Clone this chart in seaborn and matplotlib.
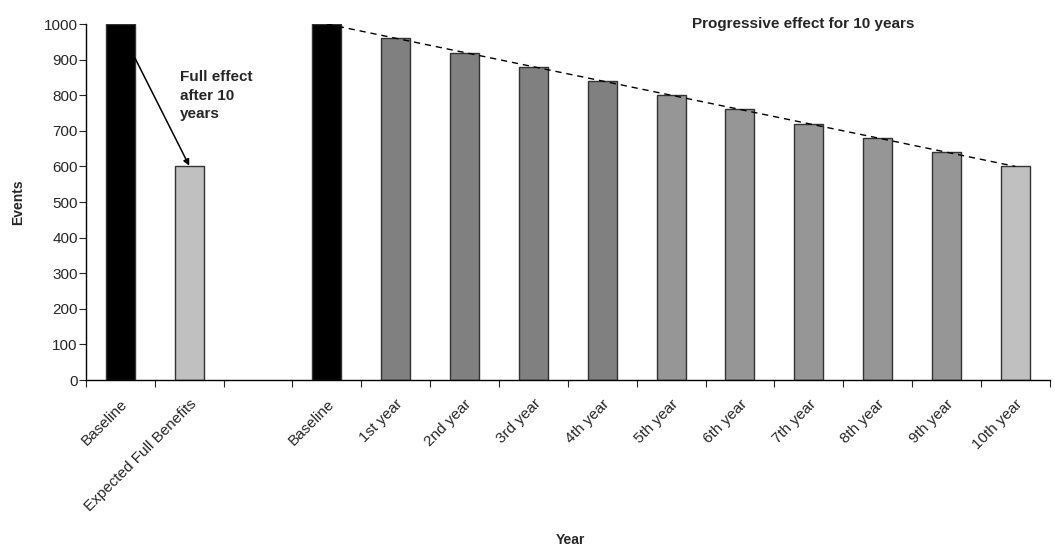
import numpy as np
import pandas as pd
import matplotlib
matplotlib.use('Agg')
import matplotlib.pyplot as plt
import seaborn as sns

# Data
categories = ['Baseline', 'Expected Full Benefits', '', 'Baseline',
              '1st year', '2nd year', '3rd year', '4th year', '5th year',
              '6th year', '7th year', '8th year', '9th year', '10th year']
events = [1000, 600, np.nan, 1000, 960, 920, 880, 840, 800, 760, 720, 680, 640, 600]
bar_colors = ['#000000', '#C0C0C0', '#FFFFFF', '#000000',
              '#808080', '#808080', '#808080', '#808080', '#969696',
              '#969696', '#969696', '#969696', '#969696', '#C0C0C0']
yticks = list(range(0, 1001, 100))

sns.set_style('white')
plt.rcParams['font.family'] = ['Liberation Sans', 'DejaVu Sans']

df = pd.DataFrame({'slot': range(len(categories)), 'events': events})
df = df.dropna()
palette = {i: c for i, c in enumerate(bar_colors)}

fig = plt.figure(figsize=(10.55, 5.46), dpi=100)
ax = fig.add_axes([0.0815, 0.304, 0.9135, 0.652])

sns.barplot(data=df, x='slot', y='events', hue='slot', order=range(len(categories)),
            palette=palette, legend=False, width=0.42, edgecolor='#333333',
            linewidth=1.0, ax=ax)

# dashed trend over the progressive part
ax.plot([3, 13], [events[3], events[13]], ls=(0, (4.5, 3.5)), color='black', lw=1.0)

ax.set_xlim(-0.5, len(categories) - 0.5)
ax.set_ylim(0, 1000)
ax.set_yticks(yticks)
ax.tick_params(axis='y', labelsize=11, length=5, direction='out', left=True, pad=1)

# ticks between categories, labels at the centres
ax.set_xticks(np.arange(-0.5, len(categories), 1.0))
ax.set_xticklabels([])
ax.set_xticks(range(len(categories)), minor=True)
ax.set_xticklabels(categories, minor=True, rotation=45, ha='right',
                   rotation_mode='anchor', fontsize=11)
ax.tick_params(axis='x', which='major', length=5, direction='out', bottom=True)
ax.tick_params(axis='x', which='minor', length=0, pad=12)

for s in ['top', 'right']:
    ax.spines[s].set_visible(False)
for s in ['left', 'bottom']:
    ax.spines[s].set_color('black')
    ax.spines[s].set_linewidth(1.0)

ax.set_xlabel('Year', fontsize=10, fontweight='bold')
ax.xaxis.set_label_coords(0.503, -0.43)
ax.set_ylabel('Events', fontsize=10, fontweight='bold', labelpad=13)

ax.annotate('', xy=(1.0, 602), xytext=(0.21, 905),
            arrowprops=dict(arrowstyle='-|>', color='black', lw=1.1,
                            mutation_scale=9, shrinkA=0, shrinkB=0))
ax.text(0.87, 872, 'Full effect\nafter 10\nyears', fontsize=11, fontweight='bold',
        va='top', ha='left', linespacing=1.45)
ax.text(9.92, 988, 'Progressive effect for 10 years', fontsize=11, fontweight='bold',
        ha='center', va='baseline', clip_on=False)

plt.savefig('out.png', dpi=100)
plt.close()
